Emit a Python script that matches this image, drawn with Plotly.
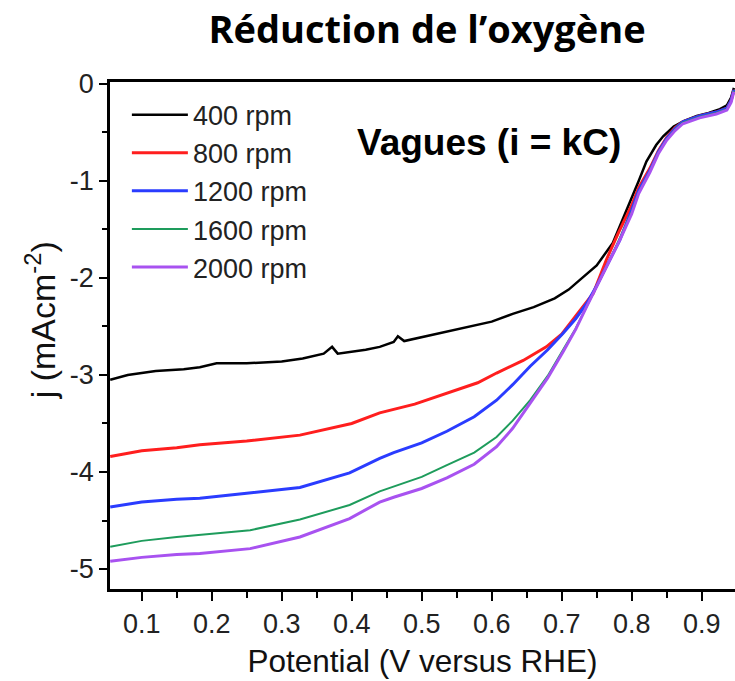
import plotly.graph_objects as go

# ---- data ----
labels = ["400 rpm", "800 rpm", "1200 rpm", "1600 rpm", "2000 rpm"]
colors = ["#000000", "#ff1e1e", "#2a3cff", "#1e9c5c", "#a852f0"]
widths = [2.5, 3, 3, 2, 3]

v_400 = [0.055, 0.08, 0.12, 0.16, 0.183, 0.207, 0.25, 0.30, 0.33, 0.36, 0.372, 0.38, 0.42, 0.44,
         0.46, 0.466, 0.475, 0.50, 0.55, 0.60, 0.63, 0.66, 0.69, 0.71, 0.726, 0.75, 0.773, 0.793,
         0.81, 0.821, 0.835, 0.845, 0.86, 0.875, 0.893, 0.91, 0.926, 0.936, 0.942, 0.946]
j_400 = [-3.05, -3.00, -2.96, -2.94, -2.92, -2.88, -2.88, -2.86, -2.83, -2.78, -2.71, -2.78, -2.74, -2.71,
         -2.66, -2.60, -2.65, -2.61, -2.53, -2.45, -2.37, -2.30, -2.21, -2.12, -2.02, -1.87, -1.64, -1.30,
         -1.00, -0.80, -0.63, -0.54, -0.44, -0.38, -0.33, -0.30, -0.26, -0.22, -0.14, -0.04]

v_800 = [0.055, 0.10, 0.15, 0.183, 0.25, 0.326, 0.40, 0.44, 0.49, 0.536, 0.58, 0.607, 0.645, 0.678,
         0.70, 0.716, 0.73, 0.745, 0.764, 0.78, 0.80, 0.81, 0.826, 0.838, 0.85, 0.862, 0.873, 0.897, 0.921,
         0.936, 0.942, 0.946]
j_800 = [-3.84, -3.78, -3.75, -3.72, -3.68, -3.62, -3.50, -3.39, -3.30, -3.19, -3.08, -2.98, -2.85, -2.71,
         -2.58, -2.43, -2.30, -2.16, -1.81, -1.55, -1.25, -1.07, -0.87, -0.69, -0.55, -0.45, -0.39, -0.33, -0.29,
         -0.25, -0.17, -0.06]

v_1200 = [0.055, 0.10, 0.15, 0.183, 0.25, 0.326, 0.397, 0.44, 0.46, 0.50, 0.536, 0.575, 0.607, 0.63, 0.655,
          0.68, 0.702, 0.72, 0.736, 0.75, 0.764, 0.783, 0.80, 0.81, 0.826, 0.838, 0.85, 0.862, 0.873, 0.897,
          0.921, 0.936, 0.942, 0.946]
j_1200 = [-4.36, -4.31, -4.28, -4.27, -4.22, -4.16, -4.01, -3.86, -3.80, -3.70, -3.58, -3.43, -3.26, -3.10, -2.91,
          -2.74, -2.57, -2.42, -2.26, -2.08, -1.88, -1.61, -1.30, -1.10, -0.89, -0.70, -0.56, -0.46, -0.39, -0.33,
          -0.29, -0.25, -0.17, -0.06]

v_1600 = [0.055, 0.10, 0.15, 0.183, 0.255, 0.326, 0.397, 0.44, 0.459, 0.50, 0.536, 0.575, 0.607, 0.63, 0.655,
          0.68, 0.702, 0.72, 0.736, 0.755, 0.773, 0.80, 0.81, 0.826, 0.838, 0.85, 0.862, 0.873, 0.897, 0.921,
          0.936, 0.942, 0.946]
j_1600 = [-4.77, -4.71, -4.67, -4.65, -4.60, -4.49, -4.34, -4.20, -4.15, -4.05, -3.93, -3.80, -3.64, -3.47, -3.26,
          -3.01, -2.74, -2.52, -2.29, -2.02, -1.75, -1.32, -1.12, -0.90, -0.71, -0.57, -0.47, -0.40, -0.34, -0.30,
          -0.26, -0.18, -0.07]

v_2000 = [0.055, 0.10, 0.15, 0.183, 0.255, 0.326, 0.397, 0.44, 0.46, 0.50, 0.536, 0.575, 0.607, 0.63, 0.655,
          0.68, 0.702, 0.72, 0.736, 0.76, 0.783, 0.80, 0.81, 0.826, 0.838, 0.85, 0.862, 0.873, 0.897, 0.921,
          0.936, 0.942, 0.946]
j_2000 = [-4.92, -4.88, -4.85, -4.84, -4.79, -4.67, -4.48, -4.31, -4.26, -4.17, -4.06, -3.92, -3.74, -3.55, -3.29,
          -3.03, -2.76, -2.53, -2.29, -1.95, -1.61, -1.34, -1.13, -0.91, -0.72, -0.58, -0.48, -0.41, -0.35, -0.31,
          -0.27, -0.19, -0.08]

xs = [v_400, v_800, v_1200, v_1600, v_2000]
ys = [j_400, j_800, j_1200, j_1600, j_2000]

y_tickvals = [0, -1, -2, -3, -4, -5]
y_ticktext = ["0", "-1", "-2", "-3", "-4", "-5"]

title_text = "<b>Réduction de l’oxygène</b>"
note_text = "<b>Vagues (i = kC)</b>"
ytitle_text = "j (mAcm<sup>-2</sup>)"
xtitle_text = "Potential (V versus RHE)"

FONT = "Liberation Sans, Arial, sans-serif"

fig = go.Figure()
for x, y, name, c, w in zip(xs, ys, labels, colors, widths):
    fig.add_trace(go.Scatter(x=x, y=y, mode="lines", name=name, legendgroup=name,
                             line=dict(color=c, width=w)))

fig.update_layout(
    width=735, height=681,
    margin=dict(l=110, r=0, t=82, b=92),
    paper_bgcolor="white", plot_bgcolor="white",
    font=dict(family=FONT, color="#222222", size=26),
    title=dict(text=title_text, x=0.581, xanchor="center", y=0.957, yanchor="middle",
               yref="container", font=dict(family="Open Sans, Lato, sans-serif", size=38, color="black")),
    legend=dict(x=0.027, y=0.983, xanchor="left", yanchor="top", bgcolor="rgba(0,0,0,0)",
                font=dict(size=27, family=FONT, color="#222222"), tracegroupgap=0, itemwidth=56),
    showlegend=True,
)

fig.update_xaxes(
    range=[0.0547, 0.9476], tickmode="linear", tick0=0.1, dtick=0.1,
    ticks="outside", ticklen=9, tickwidth=2, tickcolor="black",
    minor=dict(tickmode="linear", tick0=0.05, dtick=0.05, ticks="outside", ticklen=6, tickwidth=2, tickcolor="black"),
    showline=True, linecolor="black", linewidth=2.5, mirror=True,
    showgrid=False, zeroline=False,
    tickfont=dict(size=27, family=FONT, color="#222222"),
    title=dict(text=xtitle_text, font=dict(size=31.5, family=FONT, color="#111111"), standoff=12),
)
fig.update_yaxes(
    range=[-5.206, 0.02], tickmode="array", tickvals=y_tickvals, ticktext=y_ticktext,
    ticks="outside", ticklen=8, tickwidth=2, tickcolor="black",
    minor=dict(tickmode="linear", tick0=0, dtick=0.5, ticks="outside", ticklen=5, tickwidth=2, tickcolor="black"),
    showline=True, linecolor="black", linewidth=2.5, mirror=False,
    showgrid=False, zeroline=False,
    tickfont=dict(size=27, family=FONT, color="#222222"),
)

# y-axis title, placed slightly above the plot-area centre as in the reference
fig.add_annotation(text=ytitle_text, xref="paper", yref="paper", x=-0.112, y=0.53,
                   xanchor="center", yanchor="middle", textangle=-90, showarrow=False,
                   font=dict(size=34, family=FONT, color="#111111"))

fig.add_annotation(text=note_text, xref="x", yref="y", x=0.596, y=-0.608,
                   xanchor="center", yanchor="middle", showarrow=False,
                   font=dict(size=37, family=FONT, color="black"))

fig.write_html("out.html")
